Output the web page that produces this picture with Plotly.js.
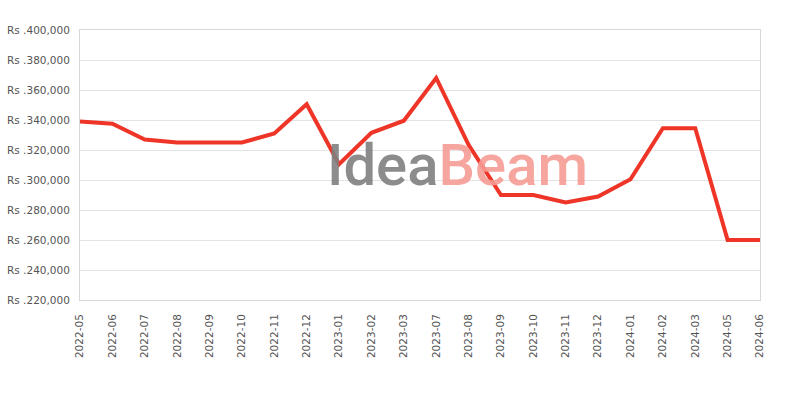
<!DOCTYPE html>
<html>
<head>
<meta charset="utf-8">
<script src="https://cdn.plot.ly/plotly-3.0.1.min.js"></script>
<style>html,body{margin:0;padding:0;background:#fff;}#chart{width:800px;height:400px;}</style>
</head>
<body>
<div id="chart"></div>
<script>
const months = ["2022-05","2022-06","2022-07","2022-08","2022-09","2022-10","2022-11","2022-12","2023-01","2023-02","2023-03","2023-07","2023-08","2023-09","2023-10","2023-11","2023-12","2024-01","2024-02","2024-03","2024-05","2024-06"];
const prices = [339000,337500,327000,325000,325000,325000,331000,350500,310500,331500,339500,368000,323500,290000,290000,285000,289000,300500,334500,334500,260000,260000];
const yTicks = [220000,240000,260000,280000,300000,320000,340000,360000,380000,400000];
const yTickText = yTicks.map(v => 'Rs .' + v.toLocaleString('en-US'));

const trace = {
  x: months, y: prices, type: 'scatter', mode: 'lines',
  line: {color: '#ef3527', width: 4, shape: 'linear'},
  hoverinfo: 'x+y'
};

const layout = {
  width: 800, height: 400,
  margin: {l: 80, r: 40, t: 30, b: 100},
  paper_bgcolor: '#ffffff', plot_bgcolor: '#ffffff',
  showlegend: false,
  font: {family: 'DejaVu Sans, sans-serif', size: 10.5, color: '#555'},
  xaxis: {
    type: 'category', tickangle: -90,
    showgrid: false, showline: true, linecolor: '#d9d9d9', linewidth: 1, mirror: true,
    ticks: '', tickfont: {size: 10.5, color: '#555'}, zeroline: false,
    ticklabelstandoff: 9,
    range: [0, months.length - 1]
  },
  yaxis: {
    range: [220000, 400000], tickmode: 'array', tickvals: yTicks, ticktext: yTickText,
    showgrid: true, gridcolor: '#e3e3e3', showline: true, linecolor: '#d9d9d9', mirror: true,
    ticks: '', tickfont: {size: 10.5, color: '#555'}, zeroline: false,
    ticklabelstandoff: 7
  },
  annotations: [
    {xref: 'paper', yref: 'paper', x: 0.555, y: 0.50, xanchor: 'center', yanchor: 'middle', showarrow: false,
     text: "<span style='color:#808080'>Idea</span><span style='color:#f69c95'>Beam</span>",
     opacity: 0.9, font: {family: 'Roboto, sans-serif', size: 58, weight: 500, color: '#808080'}}
  ]
};

Plotly.newPlot('chart', [trace], layout, {displayModeBar: false, staticPlot: true});
</script>
</body>
</html>
